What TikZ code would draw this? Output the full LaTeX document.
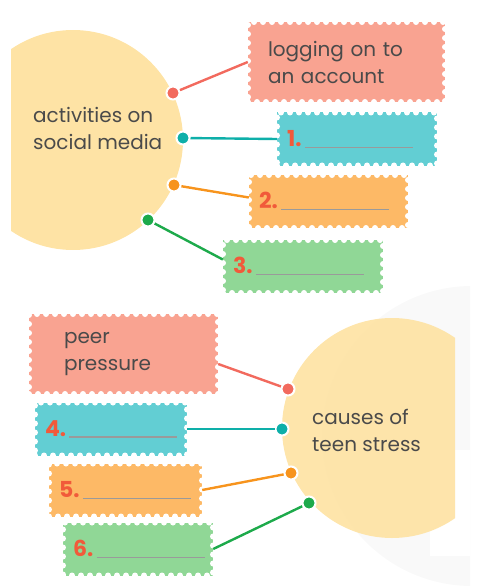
\documentclass[tikz,border=0pt]{standalone}
\usepackage{fontspec}
\setmainfont{Poppins}
\usetikzlibrary{positioning}
\definecolor{circyellow}{HTML}{FEE3A5}
\definecolor{boxsalmon}{HTML}{F9A391}
\definecolor{boxteal}{HTML}{62CED3}
\definecolor{boxorange}{HTML}{FDB966}
\definecolor{boxgreen}{HTML}{90D796}
\definecolor{linered}{HTML}{F26A5E}
\definecolor{lineteal}{HTML}{0EAFA9}
\definecolor{lineorange}{HTML}{F7941D}
\definecolor{linegreen}{HTML}{1DAA4B}
\definecolor{numred}{HTML}{F15A3A}
\definecolor{textgray}{HTML}{4A4A4A}
\definecolor{blankgray}{HTML}{9A9A9A}
\tikzset{
	stampbox/.style={fill=#1, inner xsep=10pt, inner ysep=0pt, minimum height=53pt, align=left,
		text=textgray, font=\fontsize{20}{27}\selectfont,
		postaction={draw=white, line width=6pt, line cap=round, dash pattern=on 0pt off 9pt}},
	dot/.style={circle, fill=#1, draw=white, line width=2pt, minimum size=13pt, inner sep=0pt},
	link/.style={draw=#1, line width=2.4pt},
	txt/.style={text=textgray, font=\fontsize{20}{27}\selectfont, align=left, inner sep=0pt}
}
\newcommand{\blankline}[1]{\textcolor{numred}{\fontsize{22}{27}\selectfont\bfseries #1}\,\textcolor{blankgray}{\rule[-1.5pt]{108pt}{1.2pt}}}
\begin{document}
\begin{tikzpicture}[x=1pt, y=-1pt]
\useasboundingbox (0,0) rectangle (485,588);
% faint logo behind the lower circle
\begin{scope}
	\clip (0,285) rectangle (470,588);
	\fill[black!2.5] (472,436) circle[radius=150pt];
	\fill[white] (430,450) rectangle (470,556);
\end{scope}
% the two big circles
\begin{scope}
	\clip (11,0) rectangle (485,300);
	\fill[circyellow] (73,140) circle[radius=110pt];
\end{scope}
\begin{scope}
	\clip (0,300) rectangle (455,588);
	\fill[circyellow, opacity=0.93] (392,428) circle[radius=110pt];
\end{scope}
\node[txt, anchor=west] (act) at (33,128) {activities on\\social media};
\node[txt, anchor=west] (cause) at (312,430) {causes of\\teen stress};
% boxes
\node[stampbox=boxsalmon, inner xsep=20pt, text width=157pt, minimum height=80pt] (b0) at (346.5,62) {logging on to\\an account};
\node[stampbox=boxsalmon, inner xsep=35pt, text width=119pt, minimum height=80pt] (b4) at (123.5,354) {peer\\pressure};
\foreach \name/\x/\y/\w/\col/\num in {b1/357/139/140/boxteal/1, b2/328.5/201.5/139/boxorange/2,
	b3/303/266.5/140/boxgreen/3, b5/111/429/132/boxteal/4, b6/125.5/490/133/boxorange/5,
	b7/138/549/130/boxgreen/6}
	\node[stampbox=\col, text width=\w pt] (\name) at (\x,\y) {\blankline{\num.}};
% dots on the circles
\foreach \name/\x/\y/\col in {d0/173/93/linered, d1/183/138/lineteal, d2/174/185/lineorange,
	d3/148/220/linegreen, d4/288/389/linered, d5/282/429/lineteal, d6/291/473/lineorange,
	d7/309/503/linegreen}
	\node[dot=\col] (\name) at (\x,\y) {};
% connectors
\draw[link=linered] (d0) -- (b0.west);
\draw[link=lineteal] (d1) -- (b1.west);
\draw[link=lineorange] (d2) -- ([yshift=4pt]b2.west);
\draw[link=linegreen] (d3) -- ([yshift=7pt]b3.west);
\draw[link=linered] (d4) -- ([yshift=-10pt]b4.east);
\draw[link=lineteal] (d5) -- (b5.east);
\draw[link=lineorange] (d6) -- (b6.east);
\draw[link=linegreen] (d7) -- (b7.east);
\end{tikzpicture}
\end{document}
